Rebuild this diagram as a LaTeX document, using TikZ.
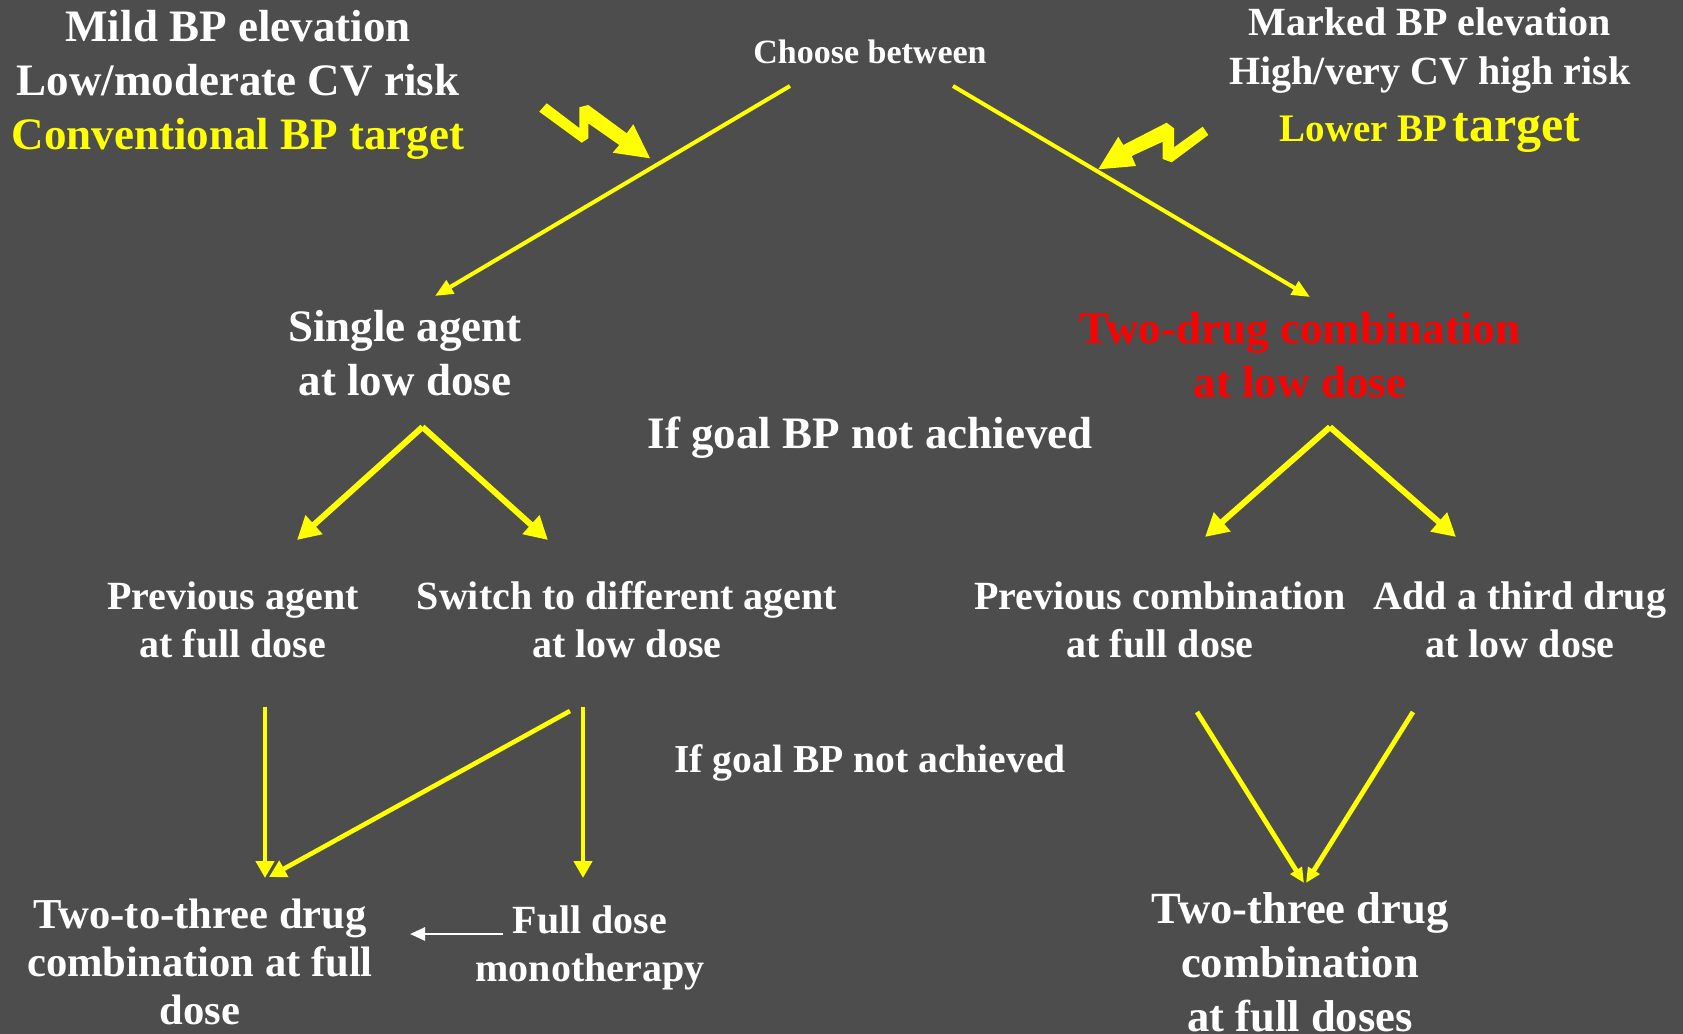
\documentclass[tikz,border=0pt]{standalone}
\usepackage{fontspec}
\setmainfont{Liberation Serif}
\usetikzlibrary{arrows.meta}
\definecolor{bg}{RGB}{77,77,77}
\definecolor{yl}{RGB}{255,255,0}
\definecolor{rd}{RGB}{255,0,0}
\begin{document}
\begin{tikzpicture}[x=0.5pt,y=-0.5pt,
  txt/.style={text=white, align=center, inner sep=0pt},
  fbig/.style={font=\bfseries\fontsize{22.5}{27}\selectfont},
  ftop/.style={font=\bfseries\fontsize{20}{25}\selectfont},
  fmid/.style={font=\bfseries\fontsize{20}{24}\selectfont},
  fsmall/.style={font=\bfseries\fontsize{17}{20}\selectfont},
  ybig/.style={fbig, text=yl},
  thinarrow/.style={draw=yl, line width=2pt, -{Triangle[length=9pt,width=7.5pt]}},
  forkarrow/.style={draw=yl, line width=3pt, -{Triangle[length=11.5pt,width=12pt]}},
  downarrow/.style={draw=yl, line width=2.3pt, -{Triangle[length=8.5pt,width=9pt]}},
  varrow/.style={draw=yl, line width=2.4pt, -{Triangle[length=7.5pt,width=6.5pt]}},
  whitearrow/.style={draw=white, line width=1.3pt, -{Triangle[length=7.5pt,width=6.5pt]}},
  bolt/.style={fill=yl, draw=none}
]
\fill[bg] (0,0) rectangle (1683,1034);
\useasboundingbox (0,0) rectangle (1683,1034);

% top-left block
\node[txt, fbig] (mild) at (238,26) {Mild BP elevation};
\node[txt, fbig] (low) at (238,80) {Low/moderate CV risk};
\node[txt, ybig] (conv) at (238,139) {Conventional BP target};

% top-right block
\node[txt, ftop] (marked) at (1430,22) {Marked BP elevation};
\node[txt, ftop] (high) at (1430,75) {High/very CV high risk};
\node[txt, text=yl, font=\bfseries] (lower) at (1430,133)
  {{\fontsize{19.5}{23}\selectfont Lower BP} {\fontsize{25}{28}\selectfont target}};

% choose between
\node[txt, fsmall] (choose) at (870,52) {Choose between};
\coordinate (chl) at (790,86);
\coordinate (chr) at (953,86);

% level 2
\node[txt, fbig] (single) at (405,353) {Single agent\\at low dose};
\node[txt, fbig, text=rd] (two) at (1300,355) {Two-drug combination\\at low dose};
\coordinate (singletop) at (435,296);
\coordinate (twotop) at (1310,297);

\node[txt, fbig] (goal1) at (870,438) {If goal BP not achieved};

% forks
\coordinate (forkl) at (422.5,427);
\coordinate (forkr) at (1330,427);
\coordinate (pa) at (297,540);
\coordinate (sw) at (548,540);
\coordinate (pc) at (1205,537);
\coordinate (ad) at (1456,537);

% level 3
\node[txt, fmid] (prev) at (233,620) {Previous agent\\at full dose};
\node[txt, fmid] (switch) at (627,620) {Switch to different agent\\at low dose};
\node[txt, fmid] (prevc) at (1160,620) {Previous combination\\at full dose};
\node[txt, fmid] (third) at (1520,620) {Add a third drug\\at low dose};

\node[txt, font=\bfseries\fontsize{19.8}{24}\selectfont] (goal2) at (870,763) {If goal BP not achieved};

% level 4
\node[txt, font=\bfseries\fontsize{21.3}{24}\selectfont] (ttt) at (200,962) {Two-to-three drug\\combination at full\\dose};
\node[txt, font=\bfseries\fontsize{20}{24}\selectfont] (fdm) at (590,948) {Full dose\\monotherapy};
\node[txt, font=\bfseries\fontsize{22.3}{27}\selectfont] (twothree) at (1300,962) {Two-three drug\\combination\\at full doses};

\coordinate (prevbot) at (265,707);
\coordinate (switchbotl) at (570,711);
\coordinate (switchbotr) at (583,707);
\coordinate (tttl) at (265,878);
\coordinate (tttr) at (269,877);
\coordinate (fdmtop) at (583,878);
\coordinate (pcbot) at (1197,712);
\coordinate (adbot) at (1413,712);
\coordinate (ttl) at (1304,883);
\coordinate (ttr) at (1306,883);
\coordinate (fdml) at (503,934);
\coordinate (tttarr) at (410,934);

% connectors
\draw[thinarrow] (chl) -- (singletop);
\draw[thinarrow] (chr) -- (twotop);
\draw[forkarrow] (forkl) -- (pa);
\draw[forkarrow] (forkl) -- (sw);
\draw[forkarrow] (forkr) -- (pc);
\draw[forkarrow] (forkr) -- (ad);
\draw[downarrow] (prevbot) -- (tttl);
\draw[downarrow] (switchbotl) -- (tttr);
\draw[downarrow] (switchbotr) -- (fdmtop);
\draw[varrow] (pcbot) -- (ttl);
\draw[varrow] (adbot) -- (ttr);
\draw[whitearrow] (fdml) -- (tttarr);

% lightning bolts
\fill[bolt] (539.3,111.7) -- (546.7,103.3) -- (579.3,128) -- (579.3,107.3) -- (588.3,105)
  -- (626.7,133.3) -- (633.3,124.3) -- (650,158.3) -- (612.7,152.7) -- (619.3,145)
  -- (588.3,123.3) -- (588.3,138.3) -- (581.7,142.7) -- cycle;
\fill[bolt] (1202.7,126.7) -- (1208.3,135) -- (1171.7,162.3) -- (1162.7,159) -- (1162.7,141.7)
  -- (1131.7,156) -- (1136,166) -- (1098.3,169.3) -- (1118.3,136.7) -- (1123.3,145)
  -- (1166.7,122.7) -- (1174,128.3) -- (1174,147.3) -- cycle;
\end{tikzpicture}
\end{document}
